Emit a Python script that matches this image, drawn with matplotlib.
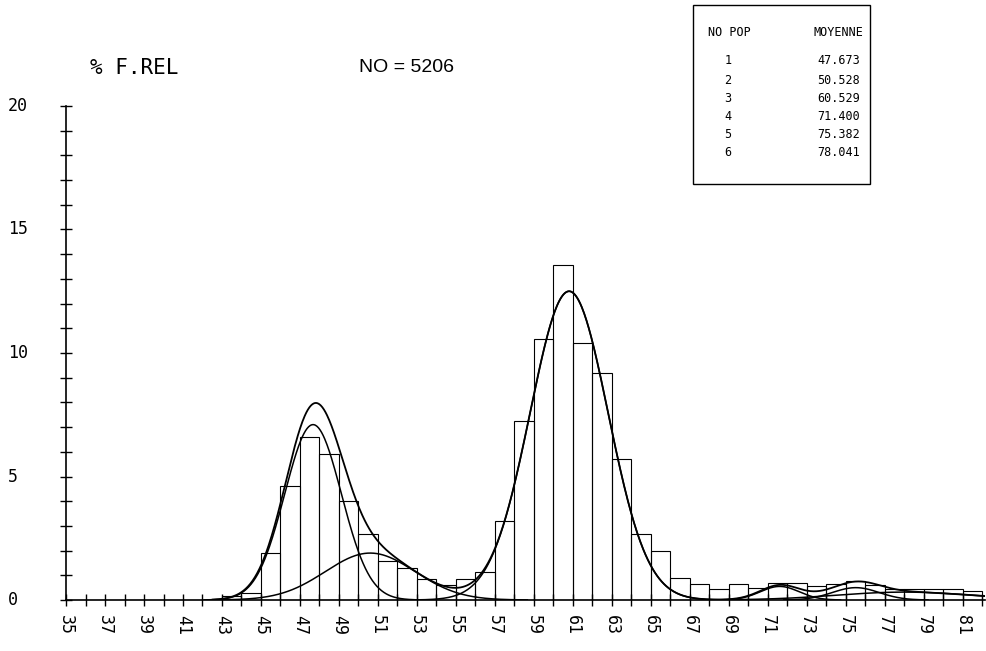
import numpy as np
import matplotlib
matplotlib.use("Agg")
import matplotlib.pyplot as plt
import matplotlib.transforms as mtransforms
from matplotlib.patches import Rectangle

# histogram: left edge of each 1-unit class and its relative frequency (%)
bin_left = list(range(35, 82))
freq = [0, 0, 0, 0, 0, 0, 0, 0,
        0.15, 0.3, 1.9, 4.6, 6.6, 5.9, 4.0, 2.67, 1.58, 1.3, 0.85, 0.6,
        0.85, 1.13, 3.2, 7.25, 10.57, 13.56, 10.4, 9.2, 5.7, 2.67, 1.98,
        0.9, 0.65, 0.45, 0.65, 0.5, 0.7, 0.7, 0.55, 0.65, 0.75, 0.6,
        0.45, 0.45, 0.45, 0.45, 0.35]

# fitted normal components, as drawn (centre, spread, peak height)
comp_center = [47.67, 50.6, 60.8, 71.6, 75.5, 78.0]
comp_sigma = [1.45, 2.3, 2.0, 1.0, 1.2, 3.5]
comp_peak = [7.1, 1.9, 12.5, 0.55, 0.5, 0.32]

# legend table
pop_no = ["1", "2", "3", "4", "5", "6"]
pop_mean = ["47.673", "50.528", "60.529", "71.400", "75.382", "78.041"]

xtick_labels = [str(v) for v in range(35, 82, 2)]
ytick_labels = ["0", "5", "10", "15", "20"]
n_obs = 5206

mono = "DejaVu Sans Mono"

fig = plt.figure(figsize=(9.87, 6.51), dpi=100)
ax = fig.add_axes([66 / 987, 51 / 651, 919 / 987, 494 / 651])

ax.bar(bin_left, freq, width=1, align="edge", fill=False,
       edgecolor="black", linewidth=0.8)

# component curves and their sum
xs = np.linspace(35, 82.2, 1200)
total = np.zeros_like(xs)
for c, s, p in zip(comp_center, comp_sigma, comp_peak):
    g = p * np.exp(-0.5 * ((xs - c) / s) ** 2)
    total += g
    m = g > 0.004
    ax.plot(xs[m], g[m], color="black", linewidth=1.1)
m = xs >= 42.5
ax.plot(xs[m], total[m], color="black", linewidth=1.3)

ax.set_xlim(35, 35 + 919 / 19.5)
ax.set_ylim(0, 20)

for side in ["top", "right"]:
    ax.spines[side].set_visible(False)
for side in ["left", "bottom"]:
    ax.spines[side].set_linewidth(1.2)

# a tick on every class, a label on every other one
xticks = list(range(35, 83))
ax.set_xticks(xticks)
ax.set_xticklabels([str(k) if str(k) in xtick_labels else "" for k in xticks],
                   rotation=-90, fontfamily=mono, fontsize=12)
ax.tick_params(axis="x", direction="inout", length=8, width=1, pad=7)

ax.set_yticks(range(0, 21))
ax.set_yticklabels([])
ax.tick_params(axis="y", direction="inout", length=8, width=1)

trans = mtransforms.blended_transform_factory(ax.transAxes, ax.transData)
for lab in ytick_labels:
    ax.text(-58 / 919, float(lab), lab, transform=trans, ha="left",
            va="center", fontfamily=mono, fontsize=12)

fig.text(90 / 987, 1 - 68 / 651, "% F.REL", fontfamily=mono, fontsize=15,
         ha="left", va="center")
fig.text(407 / 987, 1 - 68 / 651, f"NO = {n_obs}", fontfamily="Liberation Sans",
         fontsize=14, ha="center", va="center")

# legend box
fig.patches.append(Rectangle((693 / 987, 1 - 184 / 651), 177 / 987, 179 / 651,
                             transform=fig.transFigure, fill=False,
                             edgecolor="black", linewidth=1))
fig.text(708 / 987, 1 - 32 / 651, "NO POP", fontfamily=mono, fontsize=8.5,
         ha="left", va="center")
fig.text(863 / 987, 1 - 32 / 651, "MOYENNE", fontfamily=mono, fontsize=8.5,
         ha="right", va="center")
row_y = [61, 81, 99, 117, 135, 153]
for ry, n, mv in zip(row_y, pop_no, pop_mean):
    fig.text(728 / 987, 1 - ry / 651, n, fontfamily=mono, fontsize=8.5,
             ha="center", va="center")
    fig.text(860 / 987, 1 - ry / 651, mv, fontfamily=mono, fontsize=8.5,
             ha="right", va="center")

fig.savefig("out.png", dpi=100)
